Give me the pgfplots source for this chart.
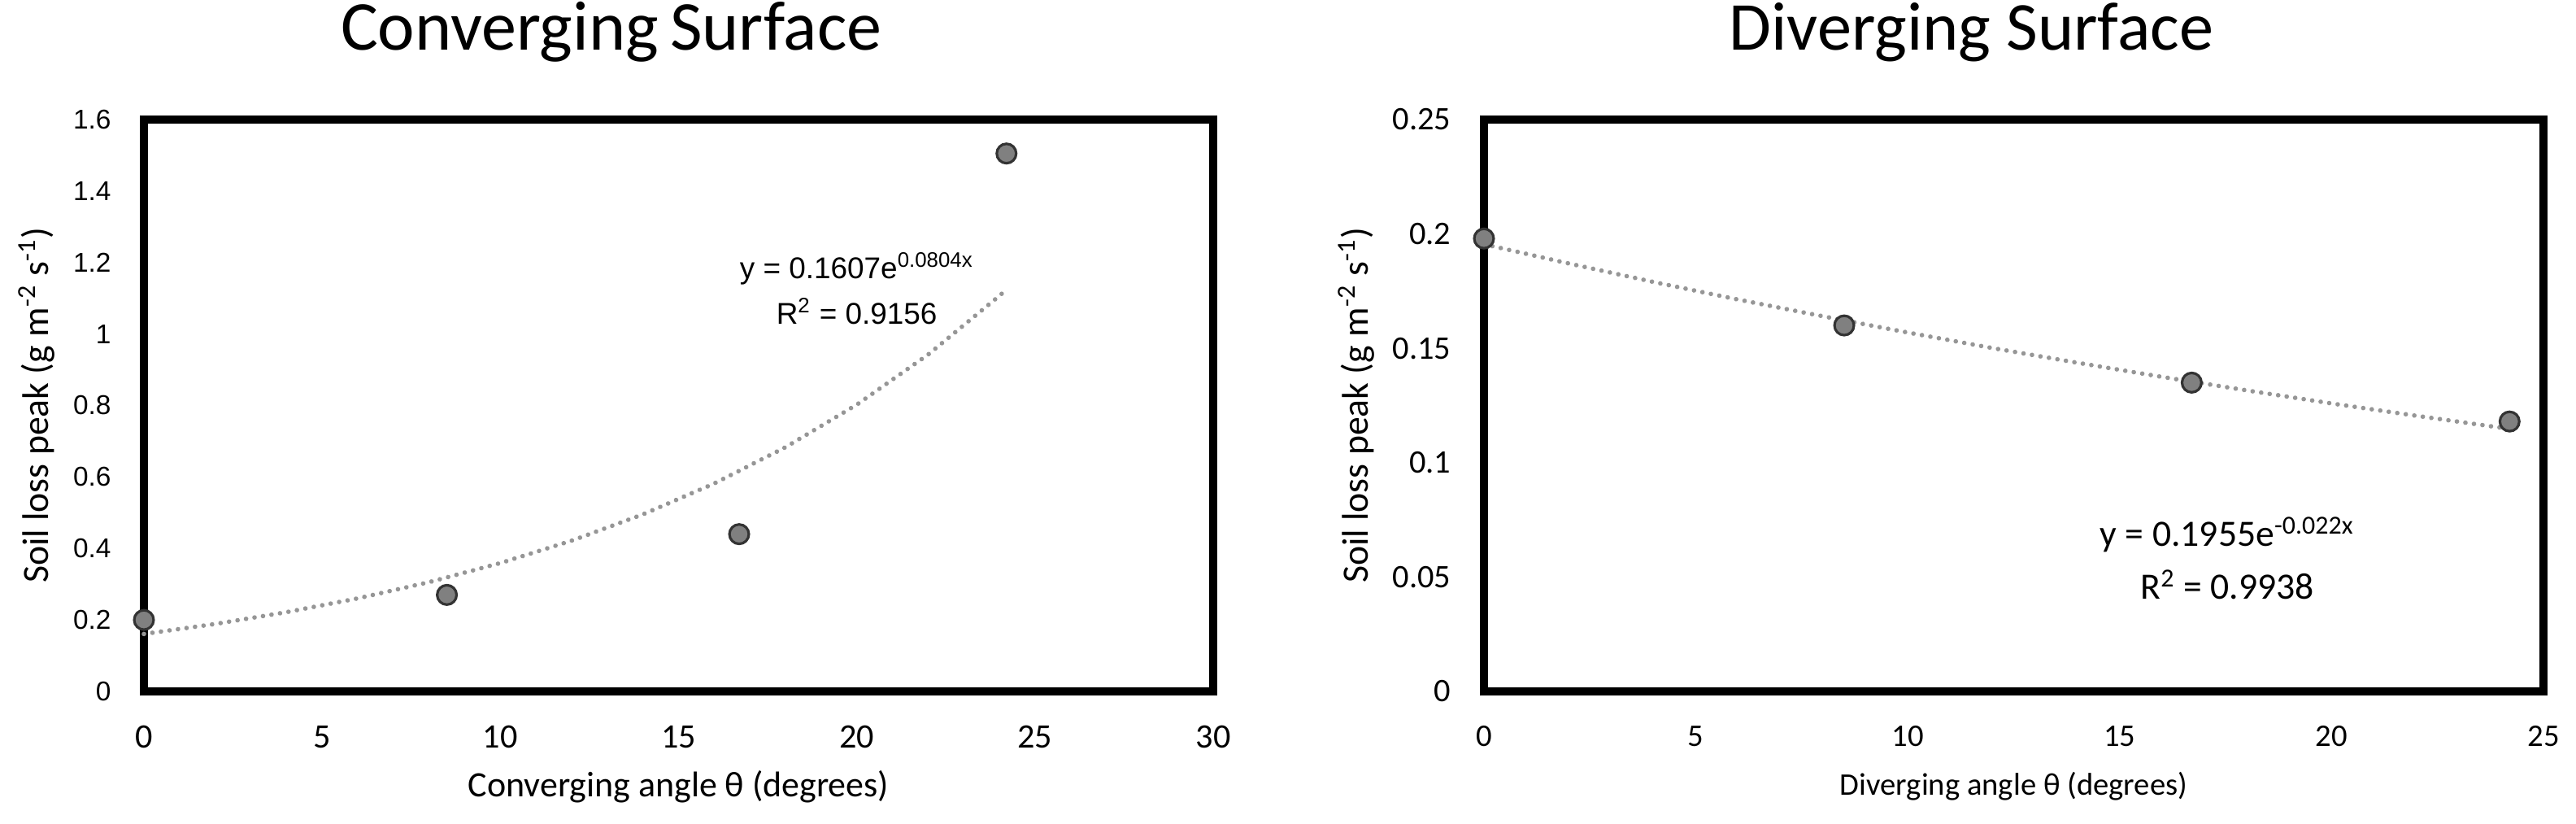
\documentclass[border=0pt]{standalone}
\usepackage{fontspec}
\setmainfont{Carlito}
\newfontfamily\arialf{Liberation Sans}
\usepackage{pgfplots}
\pgfplotsset{compat=1.18}
\definecolor{markgray}{RGB}{128,128,128}
\definecolor{trendgray}{RGB}{150,150,150}

\pgfplotsset{
  boxpanel/.style={
    scale only axis,
    clip=false,
    axis line style={line width=2.8pt, black},
    major tick length=0pt,
    /pgf/number format/assume math mode=true,
    /pgf/number format/fixed,
    title style={anchor=center},
  },
  pts/.style={only marks, mark=*, mark size=3.4pt,
    mark options={fill=markgray, draw=black!80, line width=0.9pt}},
  trend/.style={no marks, trendgray, line width=1.6pt, line cap=round,
    dash pattern=on 0.01pt off 3pt},
}

\begin{document}
\begin{tikzpicture}
\path[use as bounding box] (-1.77,-1.63) rectangle (29.91,8.50);

% converging
\begin{axis}[boxpanel,
  at={(0,0)}, width=13.15cm, height=7.03cm,
  xmin=0, xmax=30, ymin=0, ymax=1.6,
  xtick={0,5,...,30}, ytick={0,0.2,...,1.6},
  yticklabel style={font=\arialf\fontsize{9.5}{11}\selectfont, xshift=-8pt},
  xticklabel style={font=\fontsize{12}{13}\selectfont, yshift=-8.5pt},
  title={Converging\,Surface},
  title style={font=\fontsize{24.5}{26}\selectfont, at={(axis description cs:0.437,1.123)}},
  xlabel={Converging angle θ (degrees)},
  xlabel style={font=\fontsize{12.5}{14}\selectfont, at={(axis description cs:0.5,-0.1664)}, anchor=center},
  ylabel={Soil loss peak (g m\textsuperscript{-2} s\textsuperscript{-1})},
  ylabel style={font=\fontsize{13}{14}\selectfont, at={(axis description cs:-0.1004,0.5)}, anchor=center},
]
\addplot[trend] coordinates {
  (0,0.1607) (2,0.1887) (4,0.2217) (6,0.2603) (8,0.3057) (10,0.3591)
  (12,0.4217) (14,0.4953) (16,0.5817) (18,0.6832) (20,0.8023)
  (22,0.9423) (24,1.1067) (24.2,1.1246)};
\addplot[pts] coordinates {(0,0.20) (8.5,0.27) (16.7,0.44) (24.2,1.505)};
\node[font=\arialf\fontsize{10.5}{16}\selectfont, align=center] at (axis cs:20.0,1.127)
  {y = 0.1607e\textsuperscript{0.0804x}\\ R\textsuperscript{2} = 0.9156};
\end{axis}

% diverging
\begin{axis}[boxpanel,
  at={(16.48cm,0)}, width=13.03cm, height=7.03cm,
  xmin=0, xmax=25, ymin=0, ymax=0.25,
  xtick={0,5,...,25}, ytick={0,0.05,...,0.25},
  yticklabel style={font=\fontsize{11.5}{13}\selectfont, xshift=-8pt},
  xticklabel style={font=\fontsize{11}{12}\selectfont, yshift=-8.5pt},
  title={Diverging Surface},
  title style={font=\fontsize{24}{26}\selectfont, at={(axis description cs:0.46,1.123)}},
  xlabel={Diverging angle θ (degrees)},
  xlabel style={font=\fontsize{11}{12}\selectfont, at={(axis description cs:0.5,-0.1664)}, anchor=center},
  ylabel={Soil loss peak (g m\textsuperscript{-2} s\textsuperscript{-1})},
  ylabel style={font=\fontsize{13}{14}\selectfont, at={(axis description cs:-0.1205,0.5)}, anchor=center},
]
\addplot[trend] coordinates {
  (0,0.1955) (2,0.1871) (4,0.1790) (6,0.1713) (8,0.1640) (10,0.1569)
  (12,0.1501) (14,0.1437) (16,0.1375) (18,0.1316) (20,0.1259)
  (22,0.1205) (24,0.1153) (24.2,0.1148)};
\addplot[pts] coordinates {(0,0.198) (8.5,0.160) (16.7,0.135) (24.2,0.118)};
\node[font=\fontsize{13}{18.5}\selectfont, align=center] at (axis cs:17.54,0.0582)
  {y = 0.1955e\textsuperscript{-0.022x}\\ R\textsuperscript{2} = 0.9938};
\end{axis}
\end{tikzpicture}
\end{document}
